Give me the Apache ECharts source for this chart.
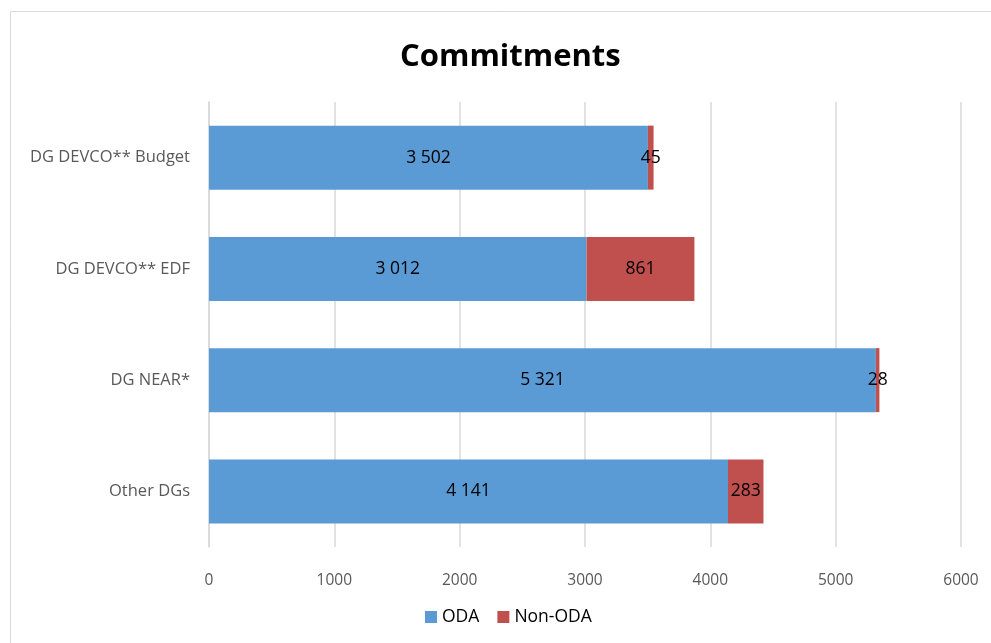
<!DOCTYPE html>
<html>
<head>
<meta charset="utf-8">
<script src="https://cdn.jsdelivr.net/npm/echarts@6/dist/echarts.min.js"></script>
<style>
  html, body { margin: 0; padding: 0; background: #fff; }
  #chart { width: 991px; height: 643px; }
</style>
</head>
<body>
<div id="chart"></div>
<script>
// categories top to bottom
const categories = ["DG DEVCO** Budget", "DG DEVCO** EDF", "DG NEAR*", "Other DGs"];
const odaValues = [3502, 3012, 5321, 4141];
const nonOdaValues = [45, 861, 28, 283];
const xTicks = [0, 1000, 2000, 3000, 4000, 5000, 6000];

// "3 502" style thousands
function fmt(v) {
  return String(v).replace(/\B(?=(\d{3})+(?!\d))/g, " ");
}

const font = "'Open Sans', 'Noto Sans', sans-serif";

const option = {
  animation: false,
  textStyle: { fontFamily: font },
  title: {
    text: "Commitments",
    left: 395,
    top: 37,
    textStyle: { fontSize: 31, fontWeight: "bold", color: "#000", fontFamily: font }
  },
  graphic: [
    {
      type: "rect",
      shape: { x: 10.5, y: 11.5, width: 1000, height: 700 },
      style: { fill: "none", stroke: "#d9d9d9", lineWidth: 1 },
      silent: true
    }
  ],
  legend: {
    bottom: 12,
    left: 420,
    itemWidth: 12,
    itemHeight: 12,
    itemGap: 18,
    icon: "rect",
    textStyle: { fontSize: 17.5, color: "#000", fontFamily: font },
    data: ["ODA", "Non-ODA"]
  },
  grid: { left: 209, right: 30, top: 102, bottom: 96, containLabel: false },
  xAxis: {
    type: "value",
    min: xTicks[0],
    max: xTicks[xTicks.length - 1],
    interval: 1000,
    axisLine: { show: false },
    axisTick: { show: false },
    splitLine: { lineStyle: { color: "#d9d9d9", width: 1.5 } },
    axisLabel: { color: "#595959", fontSize: 15.5, margin: 26, fontFamily: font, formatter: v => String(v) }
  },
  yAxis: {
    type: "category",
    inverse: true,
    data: categories,
    axisLine: { show: true, lineStyle: { color: "#d9d9d9", width: 1.5 } },
    axisTick: { show: false },
    axisLabel: { color: "#595959", fontSize: 16.5, margin: 19, fontFamily: font }
  },
  series: [
    {
      name: "ODA",
      type: "bar",
      stack: "total",
      barWidth: 64,
      itemStyle: { color: "#5B9BD5" },
      label: {
        show: true,
        position: "inside",
        color: "#000",
        fontSize: 17.5,
        fontFamily: font,
        formatter: p => fmt(p.value)
      },
      data: odaValues
    },
    {
      name: "Non-ODA",
      type: "bar",
      stack: "total",
      barWidth: 64,
      itemStyle: { color: "#C0504D" },
      label: {
        show: true,
        position: "inside",
        color: "#000",
        fontSize: 17.5,
        fontFamily: font,
        formatter: p => fmt(p.value)
      },
      labelLayout: { hideOverlap: false },
      data: nonOdaValues
    }
  ]
};

const myChart = echarts.init(document.getElementById("chart"));
myChart.setOption(option);
</script>
</body>
</html>
